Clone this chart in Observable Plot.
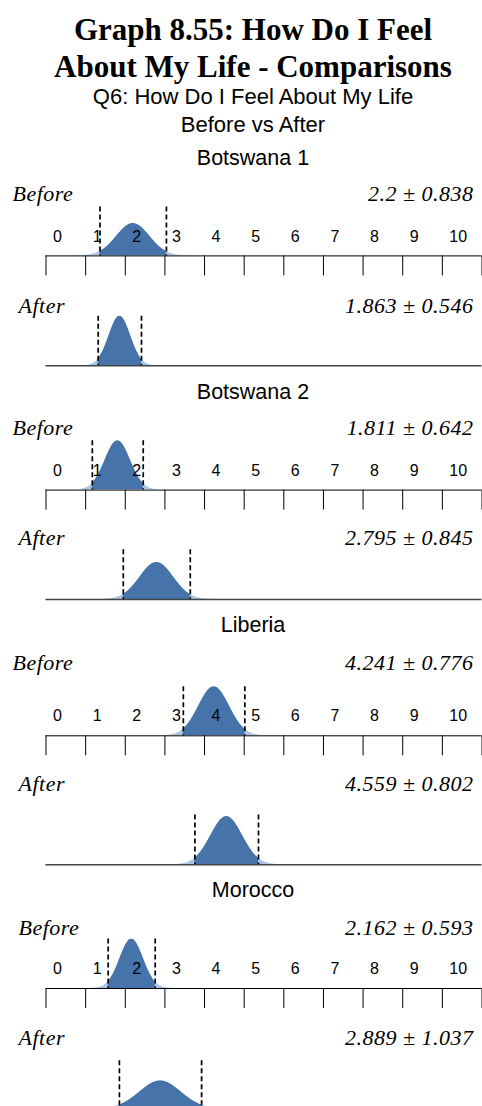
<!DOCTYPE html>
<html><head><meta charset="utf-8">
<script src="https://cdn.jsdelivr.net/npm/d3@7"></script>
<script src="https://cdn.jsdelivr.net/npm/@observablehq/plot@0.6"></script>
<style>
html,body{margin:0;padding:0;background:#fff;}
#root{position:relative;width:482px;height:1106px;overflow:hidden;background:#fff;}
.t{position:absolute;left:253px;transform:translate(-50%,-50%);white-space:nowrap;color:#000;line-height:1;}
.title{font:bold 31px "Liberation Serif","Times New Roman",serif;}
.sub{font:22px "Liberation Sans",Arial,sans-serif;}
.country{font:21.5px "Liberation Sans",Arial,sans-serif;}
.panel{position:absolute;left:0;}
</style></head><body><div id="root"></div><script>
// ---- data ----
const titleLines = ["Graph 8.55: How Do I Feel", "About My Life - Comparisons"];
const subtitleLines = ["Q6: How Do I Feel About My Life", "Before vs After"];
const countries = ["Botswana 1", "Botswana 2", "Liberia", "Morocco"];
const beforeMean = [2.2, 1.811, 4.241, 2.162];
const beforeSD   = [0.838, 0.642, 0.776, 0.593];
const afterMean  = [1.863, 2.795, 4.559, 2.889];
const afterSD    = [0.546, 0.845, 0.802, 1.037];
// relative curve height (1 = fills the panel)
const beforePeak = [0.66, 1, 1, 1];
const afterPeak  = [1, 0.745, 0.97, 0.58];
const tickLabels = [0, 1, 2, 3, 4, 5, 6, 7, 8, 9, 10];
const tickMarks  = [0, 1, 2, 3, 4, 5, 6, 7, 8, 9, 10, 11];

// ---- layout (page y positions) ----
const titleY = [30, 66.7], subY = [97, 125];
const layout = [
  {title: 158.3, bLab: 193.3, bTop: 206.7, bBase: 255.7, aLab: 305,   aTop: 315.7, aBase: 365.3, bX: 12},
  {title: 391.7, bLab: 426.7, bTop: 440,   bBase: 489.3, aLab: 536.7, aTop: 549,   aBase: 598.7, bX: 12},
  {title: 625,   bLab: 661.7, bTop: 686,   bBase: 735,   aLab: 782.7, aTop: 814.3, aBase: 864,   bX: 12},
  {title: 890,   bLab: 926.7, bTop: 938.3, bBase: 987.7, aLab: 1036.7,aTop: 1060,  aBase: 1108,  bX: 18}
];
const aX = 18;
const DARK = "#4573aa", LIGHT = "#aac6e4";
const ML = 45.5, MR = 0.5, W = 482;

const root = document.getElementById("root");
function addText(cls, txt, y) {
  const d = document.createElement("div");
  d.className = "t " + cls; d.textContent = txt; d.style.top = y + "px";
  root.appendChild(d);
}
titleLines.forEach((t, i) => addText("title", t, titleY[i]));
subtitleLines.forEach((t, i) => addText("sub", t, subY[i]));

function panel(kind, mean, sd, peak, labelY, labelX, dashTop, baseline, withAxis) {
  const sigma = sd / 2;
  const outer = d3.range(-4, 4.0001, 0.05).map(t => ({x: mean + t * sigma, y: Math.exp(-t * t / 2)}));
  const inner = d3.range(-2, 2.0001, 0.025).map(t => ({x: mean + t * sigma, y: Math.exp(-t * t / 2)}));
  const top = labelY - 16;
  const marginTop = dashTop - top;
  const plotH = baseline - dashTop;
  const marginBottom = withAxis ? 24 : 3;
  const stat = `${mean} \u00B1 ${sd}`;
  const serif = "Liberation Serif, Times New Roman, serif";
  const svg = Plot.plot({
    width: W, height: marginTop + plotH + marginBottom,
    marginLeft: ML, marginRight: MR, marginTop, marginBottom,
    x: {domain: [0, 11], axis: null, label: null},
    y: {domain: [0, 1 / peak], axis: null, label: null},
    style: {background: "transparent", overflow: "visible", color: "black"},
    marks: [
      Plot.areaY(outer, {x: "x", y: "y", fill: LIGHT, clip: true}),
      Plot.areaY(inner, {x: "x", y: "y", fill: DARK, clip: true}),
      Plot.ruleX([mean - sd, mean + sd], {stroke: "black", strokeWidth: 1.7, strokeDasharray: "5,3"}),
      Plot.ruleY([0], withAxis ? {stroke: "black"} : {stroke: "#444", strokeWidth: 1.5}),
      withAxis ? Plot.axisX(tickMarks, {anchor: "bottom", tickSize: 20, tickFormat: () => "", label: null}) : null,
      withAxis ? Plot.text(tickLabels, {x: d => d, text: d => String(d), frameAnchor: "bottom", lineAnchor: "middle",
        dy: -19.5, dx: 7, textAnchor: "start", fontSize: 16, fontFamily: "Liberation Sans, Arial, sans-serif", fill: "black"}) : null,
      Plot.text([kind], {text: d => d, frameAnchor: "top-left", lineAnchor: "middle", dx: labelX - ML, dy: labelY - dashTop,
        textAnchor: "start", fontFamily: serif, fontStyle: "italic", fontSize: 22, fill: "black"}),
      Plot.text([stat], {text: d => d, frameAnchor: "top-right", lineAnchor: "middle", dx: 473 - (W - MR), dy: labelY - dashTop,
        textAnchor: "end", fontFamily: serif, fontStyle: "italic", fontSize: 22, fill: "black"})
    ]
  });
  d3.select(svg).selectAll("text").filter(function () { return this.textContent === kind || this.textContent === stat; })
    .style("letter-spacing", "0.5px");
  svg.classList.add("panel");
  svg.style.top = top + "px";
  svg.style.position = "absolute";
  root.appendChild(svg);
}

countries.forEach((c, i) => {
  const L = layout[i];
  addText("country", c, L.title);
  panel("Before", beforeMean[i], beforeSD[i], beforePeak[i], L.bLab, L.bX, L.bTop, L.bBase, true);
  panel("After", afterMean[i], afterSD[i], afterPeak[i], L.aLab, aX, L.aTop, L.aBase, false);
});
</script></body></html>
